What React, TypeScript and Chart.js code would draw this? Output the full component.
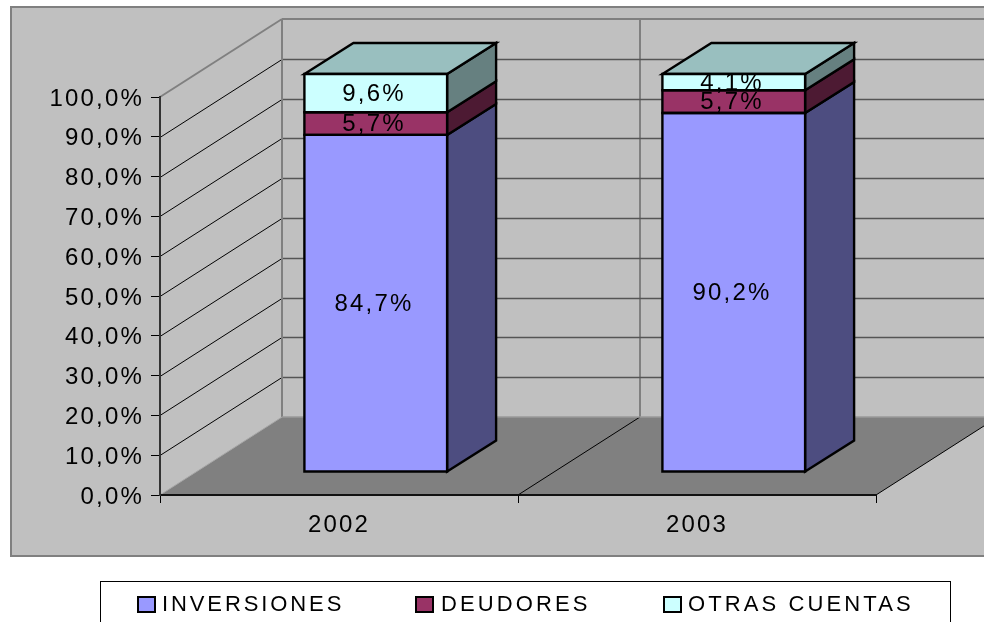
import { useEffect, useRef } from "react";
import { Chart, registerables } from "chart.js";

Chart.register(...registerables);

const categories = ["2002", "2003"];
const inversiones = [84.7, 90.2];
const deudores = [5.7, 5.7];
const otrasCuentas = [9.6, 4.1];
const seriesNames = ["INVERSIONES", "DEUDORES", "OTRAS CUENTAS"];
const frontColors = ["#9999FF", "#993366", "#CCFFFF"];
const sideColors = ["#4D4D80", "#4D1A33", "#668080"];
const topColors = ["#99BFBF", "#99BFBF", "#99BFBF"];

const FAMILY = "'Liberation Sans', Arial, sans-serif";
const FONT = "24px " + FAMILY;
const LEGEND_FONT = "22px " + FAMILY;
const SPACING = "2.2px";
const WALL = { dx: 122, dy: 78 };
const BAR_SHIFT = { dx: 36.5, dy: 23 };
const BAR_DEPTH = { dx: 49, dy: 31 };
const legendLayout = [
  { marker: 138, text: 162, spacing: "2.9px" },
  { marker: 416, text: 441, spacing: "3.1px" },
  { marker: 664, text: 688, spacing: "3.1px" },
];

function line(ctx: CanvasRenderingContext2D, x1: number, y1: number, x2: number, y2: number, color: string, width: number) {
  ctx.strokeStyle = color;
  ctx.lineWidth = width;
  ctx.beginPath();
  ctx.moveTo(x1, y1);
  ctx.lineTo(x2, y2);
  ctx.stroke();
}

function poly(ctx: CanvasRenderingContext2D, pts: number[][], fill: string | null, stroke?: string, width = 2.4) {
  ctx.beginPath();
  pts.forEach(([x, y], i) => (i ? ctx.lineTo(x, y) : ctx.moveTo(x, y)));
  ctx.closePath();
  if (fill) {
    ctx.fillStyle = fill;
    ctx.fill();
  }
  if (stroke) {
    ctx.strokeStyle = stroke;
    ctx.lineWidth = width;
    ctx.lineJoin = "miter";
    ctx.stroke();
  }
}

const excel3D = {
  id: "excel3D",
  beforeDraw(chart: any) {
    const { ctx, width, height, chartArea: a, scales } = chart;
    const y = scales.y;
    const x = scales.x;
    if (!y.__shifted) {
      y.__shifted = true;
      const original = y.drawLabels.bind(y);
      y.drawLabels = (area: any) => {
        ctx.save();
        ctx.translate(0, 2);
        original(area);
        ctx.restore();
      };
    }
    ctx.save();
    ctx.fillStyle = "#FFFFFF";
    ctx.fillRect(0, 0, width, height);
    ctx.fillStyle = "#C0C0C0";
    ctx.fillRect(11, 7, width + 20, 549);
    ctx.strokeStyle = "#808080";
    ctx.lineWidth = 2;
    ctx.strokeRect(11, 7, width + 20, 549);

    const backL = a.left + WALL.dx;
    const backR = a.right + WALL.dx;
    const bottom = y.getPixelForValue(0);
    const top = y.getPixelForValue(100);
    poly(ctx, [[a.left, bottom], [a.right, bottom], [backR, bottom - WALL.dy], [backL, bottom - WALL.dy]], "#808080");
    y.ticks.forEach((t: any) => {
      if (t.value === 0 || t.value === 100) return;
      const py = Math.round(y.getPixelForValue(t.value)) + 0.5;
      line(ctx, a.left, py, backL, py - WALL.dy, "#000000", 1);
      line(ctx, backL, py - WALL.dy, backR, py - WALL.dy, "#555555", 1.4);
    });
    const mid = (x.getPixelForValue(0) + x.getPixelForValue(1)) / 2;
    line(ctx, mid + WALL.dx, top - WALL.dy, mid + WALL.dx, bottom - WALL.dy, "#555555", 1.2);
    line(ctx, mid, bottom, mid + WALL.dx, bottom - WALL.dy, "#000000", 1);
    line(ctx, a.right, bottom, backR, bottom - WALL.dy, "#000000", 1);
    line(ctx, a.left, top, backL, top - WALL.dy, "#808080", 2);
    line(ctx, backL, top - WALL.dy, backR, top - WALL.dy, "#808080", 2);
    line(ctx, backL, top - WALL.dy, backL, bottom - WALL.dy, "#808080", 2);
    line(ctx, a.left, bottom, backL, bottom - WALL.dy, "#A8A8A8", 1);
    line(ctx, backL, bottom - WALL.dy, backR, bottom - WALL.dy, "#9A9A9A", 1.5);
    ctx.restore();
    ctx.letterSpacing = SPACING;
  },
  beforeDatasetsDraw(chart: any) {
    const { ctx } = chart;
    ctx.save();
    ctx.translate(BAR_SHIFT.dx, -BAR_SHIFT.dy);
    chart.data.datasets.forEach((ds: any, di: number) => {
      chart.getDatasetMeta(di).data.forEach((bar: any) => {
        const right = bar.x + bar.width / 2;
        const left = bar.x - bar.width / 2 + 0.5;
        const d = BAR_DEPTH;
        poly(ctx, [[right, bar.base], [right + d.dx, bar.base - d.dy], [right + d.dx, bar.y - d.dy], [right, bar.y]], sideColors[di], "#000000");
        if (di === chart.data.datasets.length - 1) {
          poly(ctx, [[left, bar.y], [right, bar.y], [right + d.dx, bar.y - d.dy], [left + d.dx, bar.y - d.dy]], topColors[di], "#000000");
        }
      });
    });
  },
  afterDatasetsDraw(chart: any) {
    const { ctx } = chart;
    chart.data.datasets.forEach((ds: any, di: number) => {
      chart.getDatasetMeta(di).data.forEach((bar: any) => {
        const right = bar.x + bar.width / 2;
        const left = bar.x - bar.width / 2 + 0.5;
        poly(ctx, [[left, bar.base], [right, bar.base], [right, bar.y], [left, bar.y]], null, "#000000");
      });
    });
    ctx.font = FONT;
    ctx.letterSpacing = SPACING;
    ctx.fillStyle = "#000000";
    ctx.textAlign = "center";
    ctx.textBaseline = "middle";
    chart.data.datasets.forEach((ds: any, di: number) => {
      chart.getDatasetMeta(di).data.forEach((bar: any, i: number) => {
        const text = ds.data[i].toFixed(1).replace(".", ",") + "%";
        ctx.fillText(text, bar.x - 1.5, (bar.y + bar.base) / 2 + 1);
      });
    });
    ctx.restore();
  },
  afterDraw(chart: any) {
    const { ctx } = chart;
    ctx.save();
    ctx.fillStyle = "#FFFFFF";
    ctx.fillRect(101, 582, 849, 60);
    ctx.strokeStyle = "#000000";
    ctx.lineWidth = 1;
    ctx.strokeRect(100.5, 581.5, 850, 60);
    ctx.font = LEGEND_FONT;
    ctx.textAlign = "left";
    ctx.textBaseline = "alphabetic";
    chart.data.datasets.forEach((ds: any, di: number) => {
      const l = legendLayout[di];
      ctx.fillStyle = ds.backgroundColor;
      ctx.fillRect(l.marker, 597, 17, 15);
      ctx.strokeStyle = "#000000";
      ctx.lineWidth = 2;
      ctx.strokeRect(l.marker, 597, 17, 15);
      ctx.fillStyle = "#000000";
      ctx.letterSpacing = l.spacing;
      ctx.fillText(ds.label, l.text, 611);
    });
    ctx.restore();
  },
};

export default function App() {
  const ref = useRef<HTMLCanvasElement>(null);
  useEffect(() => {
    document.body.style.margin = "0";
    const series = [inversiones, deudores, otrasCuentas];
    const chart = new Chart(ref.current!, {
      type: "bar",
      data: {
        labels: categories,
        datasets: series.map((data, i) => ({
          label: seriesNames[i],
          data,
          backgroundColor: frontColors[i],
          borderWidth: 0,
          barPercentage: 0.4,
          categoryPercentage: 1,
          clip: false,
        })),
      },
      options: {
        responsive: false,
        animation: false,
        layout: { padding: { top: 97, right: 108, left: 0, bottom: 0 } },
        plugins: { legend: { display: false }, tooltip: { enabled: false }, title: { display: false } },
        scales: {
          x: {
            stacked: true,
            afterFit: (s: any) => {
              s.height = 127;
            },
            grid: { display: true, drawOnChartArea: false, drawTicks: true, tickLength: 8, tickColor: "#000000", offset: true },
            border: { display: true, color: "#111111", width: 2 },
            ticks: { color: "#000000", padding: 8, font: { family: FAMILY, size: 24 }, maxRotation: 0 },
          },
          y: {
            stacked: true,
            min: 0,
            max: 100,
            afterFit: (s: any) => {
              s.width = 160;
            },
            grid: { display: true, drawOnChartArea: false, drawTicks: true, tickLength: 9, tickColor: "#000000" },
            border: { display: true, color: "#333333", width: 2 },
            ticks: {
              stepSize: 10,
              autoSkip: false,
              color: "#000000",
              padding: 7,
              font: { family: FAMILY, size: 24 },
              callback: (v: any) => Number(v).toFixed(1).replace(".", ",") + "%",
            },
          },
        },
      } as any,
      plugins: [excel3D as any],
    });
    return () => chart.destroy();
  }, []);
  return (
    <div style={{ position: "absolute", left: 0, top: 0, width: 984, height: 622, overflow: "hidden" }}>
      <canvas ref={ref} width={984} height={622} style={{ display: "block" }} />
    </div>
  );
}
